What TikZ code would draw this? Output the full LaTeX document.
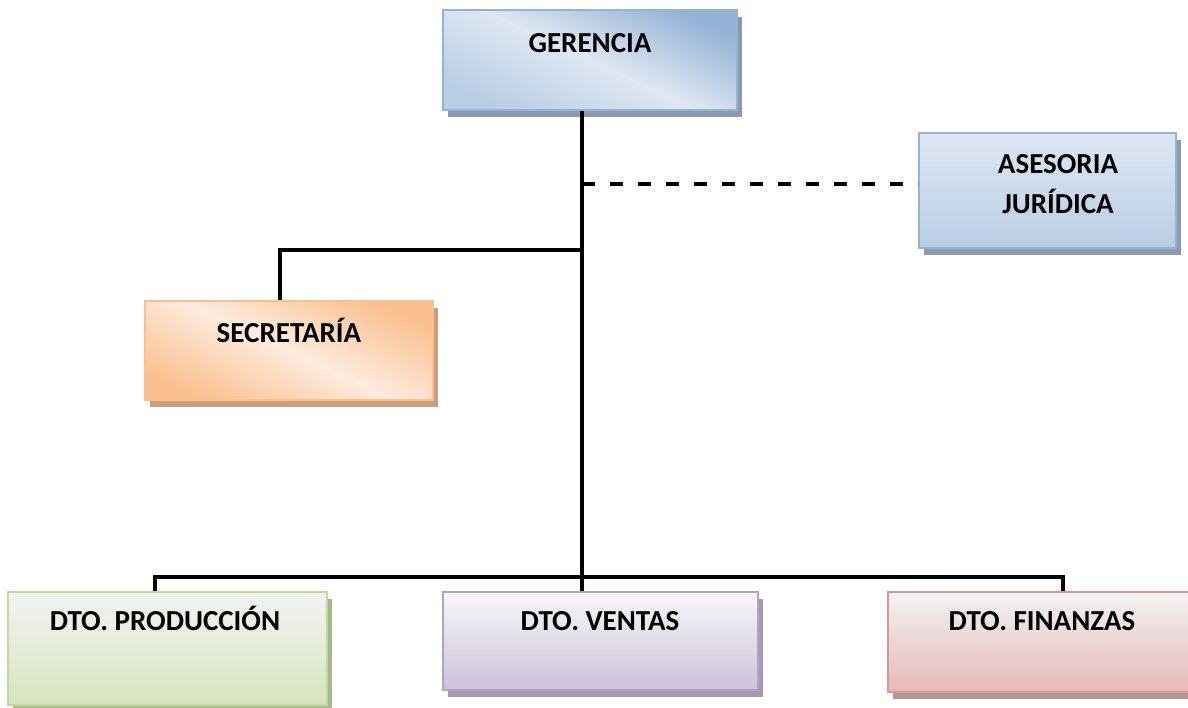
\documentclass[tikz,border=0pt]{standalone}
\usepackage{fontspec}
\setmainfont{Carlito}
\usetikzlibrary{shadows}
\definecolor{bluedark}{HTML}{95B3D7}
\definecolor{bluemid}{HTML}{B9CDE5}
\definecolor{bluelight}{HTML}{DEE7F2}
\definecolor{blueshadow}{HTML}{8C9AAD}
\definecolor{orangedark}{HTML}{FAC090}
\definecolor{orangelight}{HTML}{FDEBDD}
\definecolor{orangeshadow}{HTML}{C9A07F}
\definecolor{greenborder}{HTML}{C3D69B}
\definecolor{greenbottom}{HTML}{D7E4BD}
\definecolor{greenshadow}{HTML}{A9B78E}
\definecolor{purpleborder}{HTML}{B3A2C7}
\definecolor{purplebottom}{HTML}{CCC1DA}
\definecolor{purpleshadow}{HTML}{A59AAF}
\definecolor{redborder}{HTML}{D99694}
\definecolor{redbottom}{HTML}{E6B9B8}
\definecolor{redshadow}{HTML}{B59594}
\definecolor{topgray}{HTML}{F2F2F2}
\tikzset{
  orgbox/.style={rectangle, draw, line width=2pt, inner sep=0pt},
  sh/.style={drop shadow={shadow xshift=4.5pt, shadow yshift=-6.5pt, fill=#1, opacity=1}},
  lbl/.style={font=\bfseries\fontsize{29}{40}\selectfont, inner sep=0pt, anchor=base},
  conn/.style={line width=3.4pt, black},
  dashconn/.style={line width=3.4pt, black, dash pattern=on 12.5pt off 15.5pt}
}
\begin{document}
\begin{tikzpicture}[x=1pt,y=-1pt]
\useasboundingbox (0,0) rectangle (1188,707);
% boxes
\node[orgbox, draw=bluedark, sh=blueshadow, minimum width=294pt, minimum height=100pt,
  top color=bluedark, bottom color=bluemid, middle color=bluelight, shading angle=-25] (ger) at (590,60) {};
\node[orgbox, draw=bluedark, sh=blueshadow, minimum width=257pt, minimum height=115pt,
  top color=bluelight, bottom color=bluemid] (ase) at (1047.5,190.5) {};
\node[orgbox, draw=orangedark, sh=orangeshadow, minimum width=288pt, minimum height=99pt,
  top color=orangedark, bottom color=orangedark, middle color=orangelight, shading angle=-25] (sec) at (289,350.5) {};
\node[orgbox, draw=greenborder, sh=greenshadow, minimum width=319pt, minimum height=113pt,
  top color=topgray, bottom color=greenbottom] (prod) at (167.5,648.5) {};
\node[orgbox, draw=purpleborder, sh=purpleshadow, minimum width=315pt, minimum height=98pt,
  top color=white!97!black, bottom color=purplebottom] (vent) at (600.5,641) {};
\node[orgbox, draw=redborder, line width=2.5pt, sh=redshadow, minimum width=307pt, minimum height=100pt,
  top color=topgray, bottom color=redbottom] (fin) at (1041.5,642) {};
% labels
\node[lbl] (gerT) at (590,52) {GERENCIA};
\node[lbl] (aseT1) at (1058,173) {ASESORIA};
\node[lbl] (aseT2) at (1058,213) {JURÍDICA};
\node[lbl] (secT) at (289,342) {SECRETARÍA};
\node[lbl] (prodT) at (165,630) {DTO. PRODUCCIÓN};
\node[lbl] (ventT) at (600,630) {DTO. VENTAS};
\node[lbl] (finT) at (1042,630) {DTO. FINANZAS};
% connector coordinates
\coordinate (jAse) at (582,184);
\coordinate (jSec) at (582,250);
\coordinate (sCorner) at (280,250);
\coordinate (bus) at (582,577);
\coordinate (busL) at (155,577);
\coordinate (busR) at (1063,577);
% connectors
\draw[conn] (ger.south -| bus) -- (bus);
\draw[dashconn] (jAse) -- (jAse -| ase.west);
\draw[conn] (jSec) -- (sCorner) -- (sCorner |- sec.north);
\draw[conn] (busL |- prod.north) -- (busL) -- (busR) -- (busR |- fin.north);
\draw[conn] (bus) -- (bus |- vent.north);
\end{tikzpicture}
\end{document}
